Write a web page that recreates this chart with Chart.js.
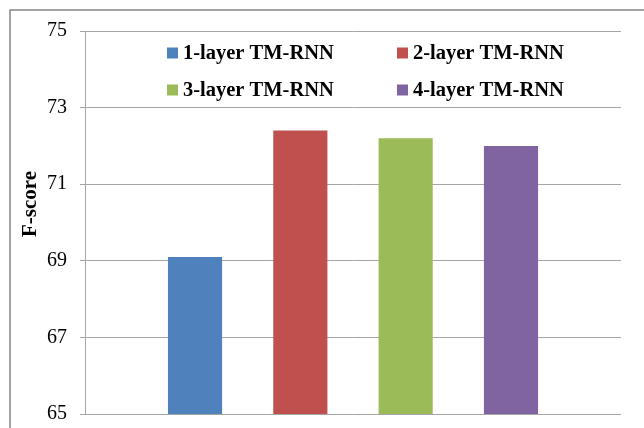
<!DOCTYPE html>
<html>
<head>
<meta charset="utf-8">
<script src="https://cdn.jsdelivr.net/npm/chart.js@4/dist/chart.umd.min.js"></script>
<style>
  html, body { margin: 0; padding: 0; background: #fff; overflow: hidden; }
  #wrap { width: 644px; height: 428px; position: relative; }
</style>
</head>
<body>
<div id="wrap"><canvas id="grafico"></canvas></div>
<script>
var categorias = [''];
var nomes = ['1-layer TM-RNN', '2-layer TM-RNN', '3-layer TM-RNN', '4-layer TM-RNN'];
var valores = [69.1, 72.4, 72.2, 72.0];
var cores = ['#4F81BD', '#C0504D', '#9BBB59', '#8064A2'];
var ticksY = [65, 67, 69, 71, 73, 75];

var serif = "'Liberation Serif', 'Times New Roman', serif";

// moldura, legenda e título do eixo no estilo do Excel
var extras = {
  id: 'extras',
  beforeDraw: function(chart) {
    var ctx = chart.ctx;
    ctx.save();
    ctx.strokeStyle = '#858585';
    ctx.lineWidth = 1.5;
    ctx.strokeRect(10, 10, 800, 600);
    ctx.restore();
  },
  afterDatasetsDraw: function(chart) {
    var ctx = chart.ctx;
    var area = chart.chartArea;
    ctx.save();
    // título do eixo y
    ctx.translate(31, 204);
    ctx.rotate(-Math.PI / 2);
    ctx.font = 'bold 21px ' + serif;
    ctx.fillStyle = '#000';
    ctx.textAlign = 'center';
    ctx.textBaseline = 'middle';
    ctx.fillText('F-score', 0, 0);
    ctx.restore();

    ctx.save();
    ctx.font = 'bold 20.5px ' + serif;
    ctx.textBaseline = 'middle';
    ctx.textAlign = 'left';
    var colX = [area.left + 82, area.left + 312];
    var rowY = [area.top + 22, area.top + 59];
    chart.data.datasets.forEach(function(ds, i) {
      var x = colX[i % 2];
      var y = rowY[Math.floor(i / 2)];
      ctx.fillStyle = ds.backgroundColor;
      ctx.fillRect(x, y - 5.5, 11, 11);
      ctx.fillStyle = '#000';
      ctx.fillText(ds.label, x + 16, y + 1);
    });
    ctx.restore();
  }
};

var datasets = nomes.map(function(nome, i) {
  return {
    label: nome,
    data: [valores[i]],
    backgroundColor: cores[i],
    borderWidth: 0,
    categoryPercentage: 0.786,
    barPercentage: 0.514
  };
});

new Chart(document.getElementById('grafico'), {
  type: 'bar',
  data: {
    labels: categorias,
    datasets: datasets
  },
  options: {
    responsive: true,
    maintainAspectRatio: false,
    animation: false,
    layout: { padding: { top: 31, right: 23, bottom: 14, left: 0 } },
    plugins: {
      legend: { display: false },
      tooltip: { enabled: false }
    },
    scales: {
      x: { display: false },
      y: {
        min: 65,
        max: 75,
        afterFit: function(axis) {
          axis.width = 85;
          axis.paddingTop = 0;
          axis.paddingBottom = 0;
        },
        afterBuildTicks: function(axis) {
          axis.ticks = ticksY.map(function(v) { return { value: v }; });
        },
        ticks: {
          color: '#000',
          padding: 13,
          font: { family: serif, size: 20 }
        },
        grid: {
          color: '#a6a6a6',
          tickLength: 5,
          drawTicks: true
        },
        border: { color: '#a6a6a6' }
      }
    }
  },
  plugins: [extras]
});
</script>
</body>
</html>
